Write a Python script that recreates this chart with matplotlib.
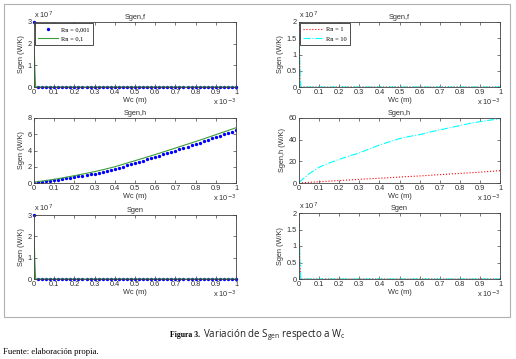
import numpy as np
import matplotlib
matplotlib.use("Agg")
import matplotlib.pyplot as plt
from matplotlib.ticker import FuncFormatter
from matplotlib.patches import Rectangle

# ---------------- data ----------------
# Wc grid (m)
wc_dots = [i * 2e-5 for i in range(51)]                       # 0 .. 1e-3, step 2e-5
wc_line = [i * 5e-5 for i in range(21)]                       # 0 .. 1e-3, step 5e-5
wc_spike = [0.0, 4e-6, 8e-6] + [i * 5e-5 for i in range(1, 21)]

# Sgen,f  (W/K)
sgenf_rn0001 = [3.0e7] + [0.0] * 50
sgenf_rn01 = [2.15e7, 0.85e7, 0.0] + [0.0] * 20
sgenf_rn1 = [1.9e7, 0.5e7, 0.0] + [0.0] * 20
sgenf_rn10 = [1.65e7, 0.7e7, 0.0] + [0.0] * 20

# Sgen,h  (W/K)
sgenh_rn0001 = [0.05, 0.10, 0.15, 0.21, 0.28, 0.35, 0.42, 0.50, 0.58, 0.66,
                0.75, 0.83, 0.91, 0.99, 1.07, 1.15, 1.26, 1.38, 1.50, 1.62,
                1.75, 1.89, 2.03, 2.17, 2.31, 2.45, 2.60, 2.75, 2.90, 3.05,
                3.20, 3.36, 3.52, 3.68, 3.84, 4.00, 4.16, 4.32, 4.48, 4.64,
                4.80, 4.97, 5.14, 5.31, 5.48, 5.65, 5.82, 5.99, 6.16, 6.33, 6.50]
sgenh_rn01 = [0.10, 0.27, 0.45, 0.67, 0.90, 1.14, 1.40, 1.69, 2.00, 2.37, 2.75,
              3.12, 3.50, 3.90, 4.30, 4.70, 5.10, 5.52, 5.95, 6.37, 6.80]
sgenh_rn1 = [0.0, 0.6, 1.2, 1.7, 2.2, 2.8, 3.4, 3.9, 4.4, 4.9, 5.5,
             6.0, 6.5, 7.1, 7.7, 8.3, 8.9, 9.4, 10.0, 10.7, 11.4]
sgenh_rn10 = [0.5, 8.5, 14.5, 18.5, 21.8, 25.0, 27.7, 31.5, 35.0, 38.0, 41.0,
              43.0, 44.6, 47.0, 49.0, 51.0, 53.0, 55.0, 56.6, 58.0, 59.4]

# Sgen total (W/K)
sgen_rn0001 = [3.0e7] + [0.0] * 50
sgen_rn01 = [2.15e7, 0.85e7, 0.0] + [0.0] * 20
sgen_rn1 = [1.85e7, 0.5e7, 0.0] + [0.0] * 20
sgen_rn10 = [1.64e7, 0.7e7, 0.0] + [0.0] * 20

xticks = [i * 1e-4 for i in range(11)]
labels_left = ["Rn = 0,001", "Rn = 0,1"]
labels_right = ["Rn = 1", "Rn = 10"]

# ---------------- figure ----------------
W, H = 516, 359
fig = plt.figure(figsize=(W / 100, H / 100), dpi=100)
plt.rcParams['font.family'] = ['Liberation Sans', 'DejaVu Sans']

FS = 5.3
GREEN = '#3c9c3c'
AXC = '#404040'
TXT = '#303030'
MS = 2.8

def px_axes(x0, y0, x1, y1):
    return fig.add_axes([x0 / W, 1 - y1 / H, (x1 - x0) / W, (y1 - y0) / H])

def style(ax, ylim, yticks, ylabel, title, yscale=None):
    ax.set_xlim(0, 1e-3)
    ax.set_ylim(*ylim)
    ax.set_xticks(xticks)
    ax.xaxis.set_major_formatter(FuncFormatter(lambda v, p: f"{v * 1e3:g}"))
    ax.set_yticks(yticks)
    if yscale:
        ax.yaxis.set_major_formatter(FuncFormatter(lambda v, p: f"{v / yscale:g}"))
        ax.text(0.0, 1.02, "x 10$^{%d}$" % int(round(np.log10(yscale))),
                transform=ax.transAxes, fontsize=FS, ha='left', va='bottom', color=TXT)
    ax.text(1.0, -0.15, "x 10$^{-3}$", transform=ax.transAxes, fontsize=FS,
            ha='right', va='top', color=TXT)
    ax.tick_params(direction='in', length=2, width=0.5, top=True, right=True,
                   labelsize=FS, pad=1.5, colors=AXC, labelcolor=TXT)
    for s in ax.spines.values():
        s.set_linewidth(0.6)
        s.set_color(AXC)
    ax.set_xlabel("Wc (m)", fontsize=FS, labelpad=0.5, color=TXT)
    ax.set_ylabel(ylabel, fontsize=FS, labelpad=2, color=TXT)
    ax.set_title(title, fontsize=FS, pad=2.5, color=TXT)

def add_legend(ax):
    leg = ax.legend(loc='upper left', prop={'family': 'Liberation Serif', 'size': 4.6},
                    frameon=True, fancybox=False, edgecolor=TXT, borderpad=0.5,
                    handlelength=3.1, handletextpad=0.5, labelspacing=0.65,
                    borderaxespad=0.2, framealpha=1)
    leg.get_frame().set_linewidth(0.6)

# Row 1 left: Sgen,f
ax1 = px_axes(34, 22, 236, 87)
ax1.plot(wc_dots, sgenf_rn0001, '.', color='blue', ms=MS, label=labels_left[0], clip_on=False)
ax1.plot(wc_spike, sgenf_rn01, '-', color=GREEN, lw=0.8, label=labels_left[1])
style(ax1, (0, 3e7), [0, 1e7, 2e7, 3e7], "Sgen (W/K)", "Sgen,f", yscale=1e7)
add_legend(ax1)

# Row 1 right: Sgen,f
ax2 = px_axes(299, 22, 500, 87)
ax2.plot(wc_spike, sgenf_rn1, ':', color='red', lw=0.8, label=labels_right[0])
ax2.plot(wc_spike, sgenf_rn10, '-.', color='cyan', lw=0.8, label=labels_right[1])
style(ax2, (0, 2e7), [0, 0.5e7, 1e7, 1.5e7, 2e7], "Sgen (W/K)", "Sgen,f", yscale=1e7)
add_legend(ax2)

# Row 2 left: Sgen,h
ax3 = px_axes(34, 118, 236, 183)
ax3.plot(wc_dots, sgenh_rn0001, '.', color='blue', ms=MS)
ax3.plot(wc_line, sgenh_rn01, '-', color=GREEN, lw=0.8)
style(ax3, (0, 8), [0, 2, 4, 6, 8], "Sgen (W/K)", "Sgen,h")

# Row 2 right: Sgen,h
ax4 = px_axes(299, 118, 500, 183)
ax4.plot(wc_line, sgenh_rn1, ':', color='red', lw=0.8)
ax4.plot(wc_line, sgenh_rn10, '-.', color='cyan', lw=0.8)
style(ax4, (0, 60), [0, 20, 40, 60], "Sgen,h (W/K)", "Sgen,h")

# Row 3 left: Sgen
ax5 = px_axes(34, 215, 236, 279)
ax5.plot(wc_dots, sgen_rn0001, '.', color='blue', ms=MS, clip_on=False)
ax5.plot(wc_spike, sgen_rn01, '-', color=GREEN, lw=0.8)
style(ax5, (0, 3e7), [0, 1e7, 2e7, 3e7], "Sgen (W/K)", "Sgen", yscale=1e7)

# Row 3 right: Sgen
ax6 = px_axes(299, 213, 500, 279)
ax6.plot(wc_spike, sgen_rn1, ':', color='red', lw=0.8)
ax6.plot(wc_spike, sgen_rn10, '-.', color='cyan', lw=0.8)
style(ax6, (0, 2e7), [0, 0.5e7, 1e7, 1.5e7, 2e7], "Sgen (W/K)", "Sgen", yscale=1e7)

# Outer gray frame
fig.patches.append(Rectangle((3.5 / W, 1 - 317 / H), (510 - 3.5) / W, (317 - 4) / H,
                             transform=fig.transFigure, fill=False,
                             edgecolor='#b0b0b0', linewidth=0.8))

# Caption: bold part, then regular part placed right after it
t1 = fig.text(170 / W, 1 - 335 / H, "Figura 3.", fontsize=5.6, fontweight='bold',
              family='Liberation Serif', ha='left', va='center')
renderer = fig.canvas.get_renderer()
bb = t1.get_window_extent(renderer=renderer)
fig.text((bb.x1 + 2.5) / W, 1 - 335 / H,
         "Variación de S$_{\\mathregular{gen}}$ respecto a W$_{\\mathregular{c}}$",
         fontsize=7.0, family='Open Sans', ha='left', va='center', color='#202020')
fig.text(3 / W, 1 - 352 / H, "Fuente: elaboración propia.", fontsize=6.2,
         family='Liberation Serif', ha='left', va='center')

fig.savefig("out.png", dpi=100)
